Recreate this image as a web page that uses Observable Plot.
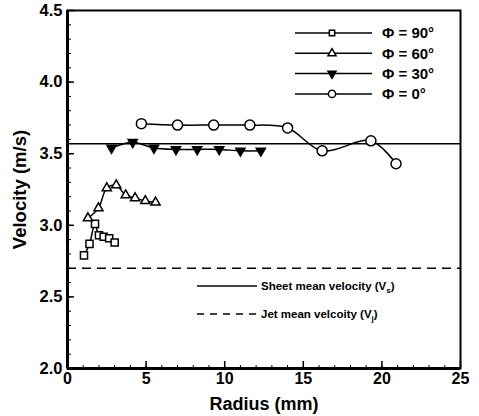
<!DOCTYPE html>
<html><head><meta charset="utf-8">
<script src="https://cdn.jsdelivr.net/npm/d3@7"></script>
<script src="https://cdn.jsdelivr.net/npm/@observablehq/plot@0.6"></script>
<style>body{margin:0;background:#fff} svg{display:block}</style>
</head><body><div id="chart"></div>
<script>
// ---- data ----
const seriesNames = ["Φ = 90°", "Φ = 60°", "Φ = 30°", "Φ = 0°"];
const r90 = [1.05, 1.4, 1.75, 2.0, 2.3, 2.65, 3.0];
const v90 = [2.79, 2.87, 3.01, 2.93, 2.92, 2.91, 2.88];
const r60 = [1.3, 1.97, 2.5, 3.1, 3.7, 4.3, 4.95, 5.6];
const v60 = [3.05, 3.12, 3.26, 3.28, 3.21, 3.19, 3.17, 3.16];
const r30 = [2.8, 4.15, 5.5, 6.9, 8.25, 9.65, 11.0, 12.3];
const v30 = [3.54, 3.58, 3.54, 3.53, 3.53, 3.53, 3.52, 3.52];
const r0 = [4.7, 7.0, 9.3, 11.6, 14.0, 16.2, 19.3, 20.9];
const v0 = [3.71, 3.70, 3.70, 3.70, 3.68, 3.52, 3.59, 3.43];
const sheetMean = 3.57;
const jetMean = 2.70;
const xTicks = [0, 5, 10, 15, 20, 25];
const yTicks = [2.0, 2.5, 3.0, 3.5, 4.0, 4.5];
const xLabel = "Radius (mm)";
const yLabel = "Velocity (m/s)";
const sheetLabel = ["Sheet mean velocity (V", "s", ")"];
const jetLabel = ["Jet mean velcoity (V", "j", ")"];

// ---- table ----
const symbols = ["square", "triangle", "triangle", "circle"];
const fills = ["white", "white", "black", "white"];
const rotates = [0, 0, 180, 0];
const radii = [4, 3.4, 3.4, 5];
const rows = [];
[[r90, v90], [r60, v60], [r30, v30], [r0, v0]].forEach(([rs, vs], i) => {
  rs.forEach((r, j) => rows.push({series: seriesNames[i], idx: i, r, v: vs[j]}));
});

const W = 479, H = 416;
const mL = 67, mR = 19, mT = 10, mB = 48;
const fw = W - mL - mR, fh = H - mT - mB;
const font = "'Liberation Sans', Arial, Helvetica, sans-serif";

const dotMarks = seriesNames.map((s, i) => Plot.dot(rows.filter(d => d.idx === i), {
  x: "r", y: "v", symbol: symbols[i], r: radii[i], fill: fills[i], stroke: "black",
  strokeWidth: 1.5, rotate: rotates[i]
}));

const chart = Plot.plot({
  width: W, height: H,
  marginLeft: mL, marginRight: mR, marginTop: mT, marginBottom: mB,
  style: {fontFamily: font, fontWeight: "bold", fontSize: "16px", color: "black", background: "white"},
  x: {domain: [0, 25]},
  y: {domain: [2, 4.5]},
  marks: [
    Plot.ruleY([sheetMean], {stroke: "black", strokeWidth: 1.6}),
    Plot.ruleY([jetMean], {stroke: "black", strokeWidth: 1.6, strokeDasharray: "9,6"}),
    Plot.line(rows, {x: "r", y: "v", z: "series", stroke: "black", strokeWidth: 1.5, curve: "catmull-rom"}),
    ...dotMarks,
    // inward ticks
    Plot.ruleY(yTicks, {stroke: "black", strokeWidth: 1.5, insetRight: fw - 7}),
    Plot.ruleY(d3.range(20, 46).map(d => d / 10), {stroke: "black", strokeWidth: 1, insetRight: fw - 4}),
    Plot.ruleX(xTicks, {stroke: "black", strokeWidth: 1.5, insetTop: fh - 7}),
    Plot.ruleX(d3.range(0, 26), {stroke: "black", strokeWidth: 1, insetTop: fh - 3}),
    Plot.frame({stroke: "black", strokeWidth: 2}),
    Plot.ruleX([0], {stroke: "black", strokeWidth: 3}),
    Plot.ruleY([2], {stroke: "black", strokeWidth: 3}),
    Plot.axisX({ticks: xTicks, tickSize: 0, tickPadding: 4, label: null, fontSize: 16}),
    Plot.axisY({ticks: yTicks, tickFormat: d3.format(".1f"), tickSize: 0, tickPadding: 5, label: null, fontSize: 16.5}),
    Plot.text([xLabel], {frameAnchor: "bottom", textAnchor: "middle", lineAnchor: "middle", dy: 36, fontSize: 18, fontWeight: "bold"}),
    Plot.text([yLabel], {frameAnchor: "left", textAnchor: "middle", lineAnchor: "middle", dx: -47, rotate: -90, fontSize: 18.5, fontWeight: "bold"})
  ]
});

// ---- legends ----
const svg = d3.select(chart);
const g = svg.append("g").attr("font-family", font).attr("font-weight", "bold")
  .attr("fill", "black").attr("text-anchor", "start");
const rightX = mL + fw;
seriesNames.forEach((name, i) => {
  const y = mT + 23 + i * 20.3;
  g.append("line").attr("x1", rightX - 165).attr("x2", rightX - 88).attr("y1", y).attr("y2", y)
    .attr("stroke", "black").attr("stroke-width", 1.5);
  const sym = symbols[i] === "square" ? d3.symbolSquare : symbols[i] === "triangle" ? d3.symbolTriangle : d3.symbolCircle;
  const rr = [3, 3, 3, 3.6][i];
  g.append("path").attr("d", d3.symbol(sym, Math.PI * rr * rr)())
    .attr("transform", `translate(${rightX - 128},${y}) rotate(${rotates[i]})`)
    .attr("fill", fills[i]).attr("stroke", "black").attr("stroke-width", 1.5);
  g.append("text").attr("x", rightX - 78).attr("y", y).attr("dy", "0.35em")
    .attr("text-anchor", "start").attr("font-size", 15).text(name);
});
[[sheetLabel, null, 286], [jetLabel, "7,6", 314]].forEach(([lab, dash, y]) => {
  const l = g.append("line").attr("x1", mL + 130).attr("x2", mL + 190).attr("y1", y).attr("y2", y)
    .attr("stroke", "black").attr("stroke-width", 1.5);
  if (dash) l.attr("stroke-dasharray", dash);
  const t = g.append("text").attr("x", mL + 194).attr("y", y).attr("dy", "0.35em")
    .attr("text-anchor", "start").attr("font-size", 11.5);
  t.append("tspan").text(lab[0]);
  t.append("tspan").attr("font-size", 8).attr("dy", 3).text(lab[1]);
  t.append("tspan").attr("dy", -3).text(lab[2]);
});

document.getElementById("chart").appendChild(chart);
</script>
</body></html>
